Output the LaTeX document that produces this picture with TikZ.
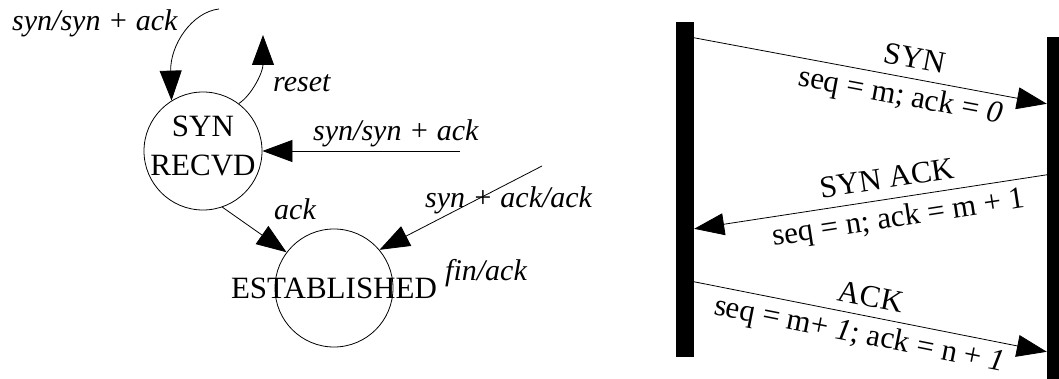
\documentclass[tikz,border=0pt]{standalone}
\usepackage{fontspec}
\setmainfont{Liberation Serif}
\usetikzlibrary{arrows.meta,calc}
\begin{document}
\begin{tikzpicture}[x=1pt,y=-1pt,
  state/.style={draw, circle, line width=0.8pt, inner sep=0pt},
  bigtext/.style={font=\fontsize{31}{39}\selectfont, inner sep=0pt},
  lbl/.style={font=\fontsize{30}{36}\selectfont\itshape, inner sep=0pt, anchor=base west},
  conn/.style={line width=0.8pt, -{Triangle[length=30pt,width=22pt]}},
  bar/.style={fill=black, draw=none, inner sep=0pt, minimum width=18pt},
  msg/.style={font=\fontsize{31}{38}\selectfont, sloped},
]
\useasboundingbox (0,0) rectangle (1059,379);
\clip (0,0) rectangle (1059,379);

% ---- state machine ----
\node[state, minimum size=118pt] (R) at (203,151) {};
\node[bigtext, align=center] (Rt) at (203,146) {SYN\\RECVD};
\node[state, minimum size=118pt] (E) at (334,288) {};
\node[bigtext] (Et) at (E.center) {ESTABLISHED};

\coordinate (t1) at (219,9);
\coordinate (t2) at (263,35);
\coordinate (h1) at (460,151);
\coordinate (d1) at (542,166);

\draw[conn] (t1) .. controls (192,12) and (170,45) .. (R.122);
\draw[conn] (R.53) .. controls (252,95) and (263,72) .. (t2);
\draw[conn] (h1) -- (R.east);
\draw[conn] (R.-71) -- (E.143);
\draw[conn] (d1) -- (E.40);

\node[lbl] (l1) at (12,31) {syn/syn + ack};
\node[lbl] (l2) at (273,92) {reset};
\node[lbl] (l3) at (313,141) {syn/syn + ack};
\node[lbl] (l4) at (274,220) {ack};
\node[lbl] (l5) at (425,208) {syn + ack/ack};
\node[lbl] (l6) at (445,280) {fin/ack};

% ---- handshake timeline ----
\node[bar, minimum height=335pt] (A) at (685,189.5) {};
\node[bar, minimum height=363pt] (B) at (1056,218.5) {};

\draw[conn] ($(A.north east)+(0,16)$) -- ($(B.north west)+(0,67)$)
  node[msg, pos=0.615, anchor=south, inner sep=10pt] {SYN}
  node[msg, pos=0.595, anchor=north, inner sep=6pt] {seq = m; ack = \textit{0}};
\draw[conn] ($(B.north west)+(0,138)$) -- ($(A.north east)+(0,207)$)
  node[msg, pos=0.445, anchor=south, inner sep=10pt] {SYN ACK}
  node[msg, pos=0.43, anchor=north, inner sep=7pt] {seq = n; ack = m + 1};
\draw[conn] ($(A.north east)+(0,260)$) -- ($(B.north west)+(0,315)$)
  node[msg, pos=0.49, anchor=south, inner sep=9pt] {ACK}
  node[msg, pos=0.48, anchor=north, inner sep=6pt] {seq = m+ \textit{1}; ack = n + \textit{1}};
\end{tikzpicture}
\end{document}
